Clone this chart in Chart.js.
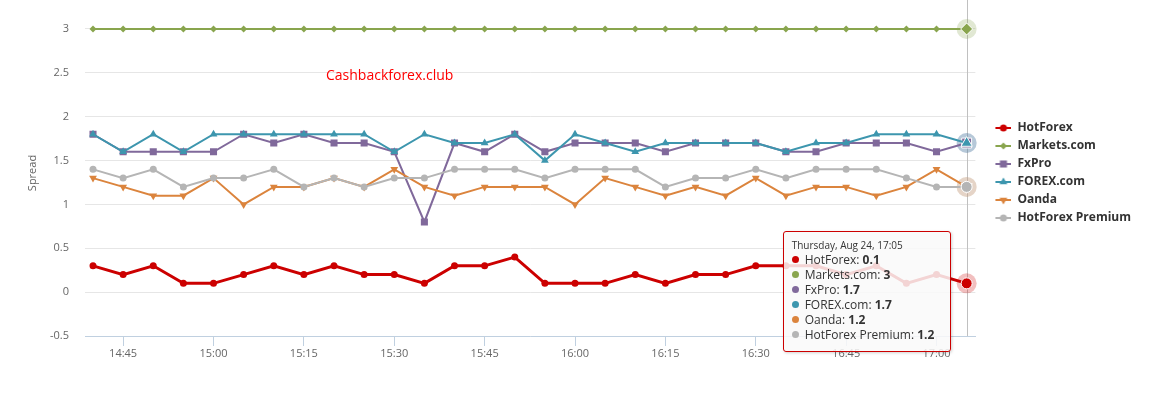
<!DOCTYPE html>
<html>
<head>
<meta charset="utf-8">
<script src="https://cdn.jsdelivr.net/npm/chart.js@4.4.1/dist/chart.umd.min.js"></script>
<style>
html,body{margin:0;padding:0;background:#fff;}
#wrap{position:relative;width:1157px;height:397px;overflow:hidden;}
#tt{position:absolute;pointer-events:none;background:rgba(249,249,249,0.85);border:1px solid #CC0000;border-radius:3px;
box-shadow:1px 1px 3px rgba(0,0,0,0.18);padding:7px 8px 9px 8px;width:150px;font-family:'Open Sans',sans-serif;color:#333;white-space:nowrap;opacity:0;}
#tt .t{font-size:10px;line-height:13px;height:13px;}
#tt .r{font-size:12px;line-height:15px;height:15px;}
#tt .d{display:inline-block;width:7px;height:7px;border-radius:50%;margin-right:6px;vertical-align:1px;}
</style>
</head>
<body>
<div id="wrap">
<canvas id="c" width="1157" height="397"></canvas>
<div id="tt"></div>
</div>
<script>
// ---- data ----
const times = ['14:40','14:45','14:50','14:55','15:00','15:05','15:10','15:15','15:20','15:25',
               '15:30','15:35','15:40','15:45','15:50','15:55','16:00','16:05','16:10','16:15',
               '16:20','16:25','16:30','16:35','16:40','16:45','16:50','16:55','17:00','17:05'];
const tickLabels = ['14:45','15:00','15:15','15:30','15:45','16:00','16:15','16:30','16:45','17:00'];
const yTicks = [-0.5, 0, 0.5, 1, 1.5, 2, 2.5, 3];
const seriesNames = ['HotForex','Markets.com','FxPro','FOREX.com','Oanda','HotForex Premium'];
const hotForex   = [0.3,0.2,0.3,0.1,0.1,0.2,0.3,0.2,0.3,0.2,0.2,0.1,0.3,0.3,0.4,0.1,0.1,0.1,0.2,0.1,0.2,0.2,0.3,0.3,0.3,0.2,0.3,0.1,0.2,0.1];
const marketsCom = [3,3,3,3,3,3,3,3,3,3,3,3,3,3,3,3,3,3,3,3,3,3,3,3,3,3,3,3,3,3];
const fxPro      = [1.8,1.6,1.6,1.6,1.6,1.8,1.7,1.8,1.7,1.7,1.6,0.8,1.7,1.6,1.8,1.6,1.7,1.7,1.7,1.6,1.7,1.7,1.7,1.6,1.6,1.7,1.7,1.7,1.6,1.7];
const forexCom   = [1.8,1.6,1.8,1.6,1.8,1.8,1.8,1.8,1.8,1.8,1.6,1.8,1.7,1.7,1.8,1.5,1.8,1.7,1.6,1.7,1.7,1.7,1.7,1.6,1.7,1.7,1.8,1.8,1.8,1.7];
const oanda      = [1.3,1.2,1.1,1.1,1.3,1.0,1.2,1.2,1.3,1.2,1.4,1.2,1.1,1.2,1.2,1.2,1.0,1.3,1.2,1.1,1.2,1.1,1.3,1.1,1.2,1.2,1.1,1.2,1.4,1.2];
const hfPremium  = [1.4,1.3,1.4,1.2,1.3,1.3,1.4,1.2,1.3,1.2,1.3,1.3,1.4,1.4,1.4,1.3,1.4,1.4,1.4,1.2,1.3,1.3,1.4,1.3,1.4,1.4,1.4,1.3,1.2,1.2];
const seriesValues = [hotForex, marketsCom, fxPro, forexCom, oanda, hfPremium];
const dayLabel = 'Thursday, Aug 24';
const yTitle = 'Spread';
const watermark = 'Cashbackforex.club';

// ---- styles ----
const FONT = "'Open Sans', sans-serif";
const styles = [
  {color:'#CC0000', ps:'circle',   r:3.5, w:3, rot:0,   hr:5.5},
  {color:'#89A54E', ps:'rectRot',  r:3.5, w:2, rot:0,   hr:6},
  {color:'#80699B', ps:'rect',     r:5,   w:2, rot:0,   hr:7},
  {color:'#3D96AE', ps:'triangle', r:4.5, w:2, rot:0,   hr:6.5},
  {color:'#DB843D', ps:'triangle', r:4.5, w:2, rot:180, hr:6.5},
  {color:'#B5B5B5', ps:'circle',   r:3.5, w:2, rot:0,   hr:5.5}
];
function rgba(hex, a){const n=parseInt(hex.slice(1),16);return `rgba(${n>>16},${(n>>8)&255},${n&255},${a})`;}
const toMin = s => { const [h,m] = s.split(':').map(Number); return h*60+m; };
const labelFor = v => { const h=Math.floor(v/60), m=Math.round(v%60); return h+':'+String(m).padStart(2,'0'); };

Chart.defaults.font.family = FONT;

// legend icons: line + marker
const legendIcons = styles.map(s => {
  const c = document.createElement('canvas'); c.width = 30; c.height = 12;
  const g = c.getContext('2d');
  g.strokeStyle = s.color; g.lineWidth = 2;
  g.beginPath(); g.moveTo(14, 6); g.lineTo(30, 6); g.stroke();
  g.fillStyle = s.color;
  Chart.helpers.drawPoint(g, {pointStyle:s.ps, radius:s.r, rotation:s.rot, borderWidth:0}, 22, 6);
  return c;
});

const datasets = seriesNames.map((name, i) => ({
  label: name,
  data: seriesValues[i].map((v, j) => ({x: toMin(times[j]), y: v})),
  borderColor: styles[i].color,
  backgroundColor: styles[i].color,
  borderWidth: styles[i].w,
  tension: 0,
  pointStyle: styles[i].ps,
  pointRadius: styles[i].r,
  pointRotation: styles[i].rot,
  pointBorderWidth: 0,
  pointBackgroundColor: styles[i].color,
  pointHoverRadius: styles[i].hr,
  pointHoverBorderWidth: 1,
  pointHoverBorderColor: '#ffffff',
  pointHoverBackgroundColor: styles[i].color,
  order: seriesNames.length - i
}));

const overlay = {
  id: 'overlay',
  beforeDatasetsDraw(chart) {
    const {ctx, chartArea} = chart;
    ctx.save();
    ctx.fillStyle = '#FF0000';
    ctx.font = "14px " + FONT;
    ctx.textBaseline = 'alphabetic';
    ctx.fillText(watermark, chartArea.left + 241, 80);
    const active = chart.getActiveElements();
    if (active.length) {
      const x = Math.round(active[0].element.x) + 0.5;
      ctx.strokeStyle = '#C0C0C0'; ctx.lineWidth = 1;
      ctx.beginPath(); ctx.moveTo(x, 0); ctx.lineTo(x, chartArea.bottom); ctx.stroke();
      active.forEach(a => {
        const el = a.element;
        ctx.fillStyle = rgba(styles[a.datasetIndex].color, 0.25);
        ctx.beginPath(); ctx.arc(el.x, el.y, 10, 0, Math.PI*2); ctx.fill();
      });
    }
    ctx.restore();
  }
};

function externalTooltip({chart, tooltip}) {
  const el = document.getElementById('tt');
  if (tooltip.opacity === 0) { el.style.opacity = 0; return; }
  const pts = tooltip.dataPoints.slice().sort((a,b) => a.datasetIndex - b.datasetIndex);
  let html = `<div class="t">${tooltip.title[0]}</div>`;
  pts.forEach(p => {
    html += `<div class="r"><span class="d" style="background:${styles[p.datasetIndex].color}"></span>${p.dataset.label}: <b>${p.formattedValue}</b></div>`;
  });
  el.innerHTML = html;
  el.style.borderColor = styles[pts[0].datasetIndex].color;
  el.style.opacity = 1;
  el.style.left = (tooltip.caretX - el.offsetWidth - 16) + 'px';
  el.style.top = (tooltip.caretY - el.offsetHeight / 2 + 8) + 'px';
}

const chart = new Chart(document.getElementById('c'), {
  type: 'line',
  data: { datasets },
  plugins: [overlay],
  options: {
    responsive: false,
    animation: false,
    events: [],
    layout: { padding: { left: 24, top: 10, right: 16, bottom: 35.8 } },
    scales: {
      x: {
        type: 'linear',
        min: toMin(times[0]) - 1.33,
        max: toMin(times[times.length-1]) + 1.45,
        afterBuildTicks: s => { s.ticks = tickLabels.map(t => ({value: toMin(t)})); },
        ticks: { callback: v => labelFor(v), color: '#666', font: {size: 11}, padding: 1, autoSkip: false, maxRotation: 0 },
        grid: { drawOnChartArea: false, drawTicks: true, tickLength: 10, color: '#C0D0E0' },
        border: { color: '#C0D0E0' }
      },
      y: {
        min: -0.5,
        max: 3.2166,
        afterBuildTicks: s => { s.ticks = yTicks.map(v => ({value: v})); },
        afterFit: s => { s.width = 61; },
        ticks: { color: '#666', font: {size: 11}, padding: 0, autoSkip: false, callback: v => String(v) },
        grid: { color: '#E6E6E6', drawTicks: true, tickLength: 16, tickColor: 'rgba(0,0,0,0)' },
        border: { display: false },
        title: { display: true, text: yTitle, color: '#666', font: {size: 11}, padding: {top: 2, bottom: 0} }
      }
    },
    plugins: {
      legend: {
        position: 'right',
        align: 'center',
        fullSize: false,
        labels: {
          usePointStyle: true,
          pointStyleWidth: 30,
          padding: 6,
          color: '#333',
          font: { size: 12, weight: 'bold' },
          sort: (a, b) => a.datasetIndex - b.datasetIndex,
          generateLabels(ch) {
            const items = Chart.defaults.plugins.legend.labels.generateLabels(ch);
            items.forEach(it => { it.pointStyle = legendIcons[it.datasetIndex]; it.rotation = 0; it.lineWidth = 0; });
            return items;
          }
        }
      },
      tooltip: {
        enabled: false,
        mode: 'index',
        intersect: false,
        position: 'nearest',
        external: externalTooltip,
        itemSort: (a, b) => a.datasetIndex - b.datasetIndex,
        callbacks: { title: items => dayLabel + ', ' + times[items[0].dataIndex] }
      }
    }
  }
});

const idx = times.length - 1;
const active = seriesNames.map((_, i) => ({datasetIndex: i, index: idx}));
chart.setActiveElements(active);
const anchor = chart.getDatasetMeta(0).data[idx];
chart.tooltip.setActiveElements(active, {x: anchor.x, y: anchor.y});
chart.update();
</script>
</body>
</html>
